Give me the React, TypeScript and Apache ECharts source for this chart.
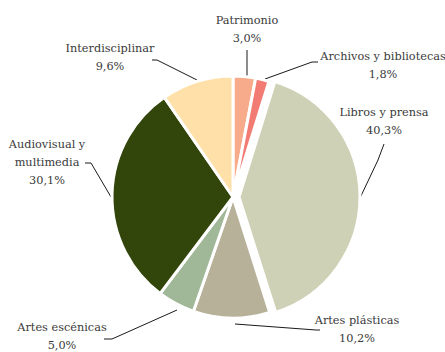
import React, { useEffect, useRef } from "react";
import * as echarts from "echarts";

const categories = [
  "Patrimonio",
  "Archivos y bibliotecas",
  "Libros y prensa",
  "Artes plásticas",
  "Artes escénicas",
  "Audiovisual y multimedia",
  "Interdisciplinar",
];
const labelNames = [
  "Patrimonio",
  "Archivos y bibliotecas",
  "Libros y prensa",
  "Artes plásticas",
  "Artes escénicas",
  "Audiovisual y\nmultimedia",
  "Interdisciplinar",
];
const values = [3.0, 1.8, 40.3, 10.2, 5.0, 30.1, 9.6];
const colors = ["#F8AB8A", "#F27B73", "#CED1B5", "#B8B19A", "#A0B898", "#32450B", "#FFE0A8"];
const explodedIndex = 2;
const labelPos = [
  { x: 247, y: 29 },
  { x: 383, y: 65 },
  { x: 384, y: 121 },
  { x: 357, y: 329 },
  { x: 62, y: 336 },
  { x: 47, y: 162 },
  { x: 110, y: 57 },
];
const linePts = [
  [[247, 76], [247, 62], [247, 50]],
  [[265, 79], [312, 62], [318, 62]],
  [[360, 198], [378, 160], [384, 144]],
  [[235, 324], [316, 330], [320, 330]],
  [[177, 310], [112, 339], [104, 339]],
  [[111, 197], [91, 163], [85, 163]],
  [[197, 80], [157, 60], [152, 60]],
];

const FONT = "DejaVu Serif";

function makeSeries(center: number[], visible: (i: number) => boolean) {
  return {
    type: "pie",
    center,
    radius: 121,
    startAngle: 90,
    clockwise: true,
    silent: true,
    itemStyle: { borderColor: "#ffffff", borderWidth: 3 },
    emphasis: { disabled: true },
    data: categories.map((c, i) => ({
      name: c,
      value: values[i],
      itemStyle: visible(i)
        ? { color: colors[i] }
        : { color: "rgba(0,0,0,0)", borderColor: "rgba(0,0,0,0)" },
      label: { show: visible(i) },
      labelLine: { show: visible(i) },
    })),
    label: {
      show: true,
      position: "outside",
      fontFamily: FONT,
      fontSize: 11.3,
      lineHeight: 18,
      color: "#3a3a3a",
      align: "center",
      overflow: "none",
      width: 200,
      formatter: (p: any) =>
        labelNames[p.dataIndex] + "\n" + values[p.dataIndex].toFixed(1).replace(".", ",") + "%",
    },
    labelLine: {
      show: true,
      length: 12,
      length2: 8,
      lineStyle: { color: "#1a1a1a", width: 1 },
    },
    labelLayout: (p: any) => ({
      x: labelPos[p.dataIndex].x,
      y: labelPos[p.dataIndex].y,
      align: "center",
      verticalAlign: "middle",
      labelLinePoints: linePts[p.dataIndex],
    }),
  };
}

export default function App() {
  const ref = useRef<HTMLDivElement>(null);
  useEffect(() => {
    const chart = echarts.init(ref.current!, null, { renderer: "svg" });
    chart.setOption({
      animation: false,
      backgroundColor: "#ffffff",
      textStyle: { fontFamily: FONT },
      series: [
        makeSeries([233, 197], (i) => i !== explodedIndex),
        makeSeries([239, 197], (i) => i === explodedIndex),
      ],
    });
    return () => chart.dispose();
  }, []);
  return (
    <div
      ref={ref}
      style={{ position: "fixed", left: 0, top: 0, width: 445, height: 352 }}
    />
  );
}
